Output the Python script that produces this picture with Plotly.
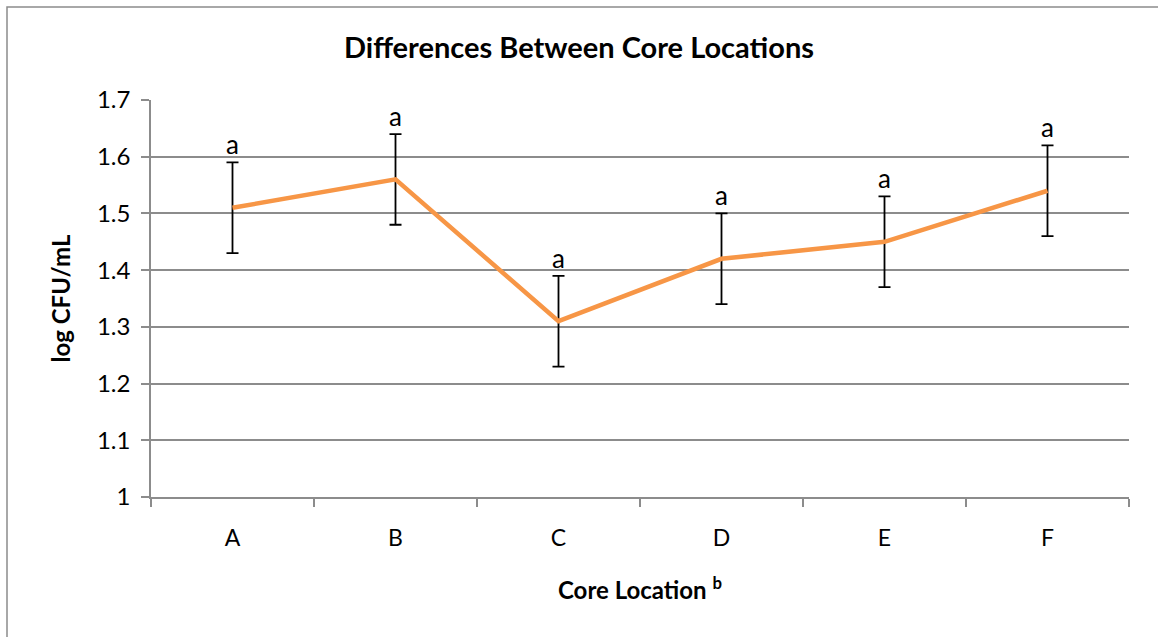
import plotly.graph_objects as go

categories = ["A", "B", "C", "D", "E", "F"]
means = [1.51, 1.56, 1.31, 1.42, 1.45, 1.54]
errors = [0.08, 0.08, 0.08, 0.08, 0.08, 0.08]
letters = ["a", "a", "a", "a", "a", "a"]
y_ticks = [1, 1.1, 1.2, 1.3, 1.4, 1.5, 1.6, 1.7]
y_tick_text = ["1", "1.1", "1.2", "1.3", "1.4", "1.5", "1.6", "1.7"]

FONT = "Lato"
GRID = "#8c8c8c"

fig = go.Figure()
fig.add_trace(go.Scatter(
    x=categories, y=means, mode="lines",
    line=dict(color="#F79646", width=4.5),
    error_y=dict(type="data", array=errors, visible=True,
                 color="black", thickness=1.8, width=6),
    showlegend=False, hoverinfo="skip",
))

for c, m, e, l in zip(categories, means, errors, letters):
    fig.add_annotation(x=c, y=m + e, text=l, showarrow=False,
                       yanchor="bottom", yshift=0,
                       font=dict(family=FONT, size=26, color="black"))

fig.update_layout(
    width=1158, height=637,
    margin=dict(l=151, r=29, t=100, b=140),
    paper_bgcolor="white", plot_bgcolor="white",
    title=dict(text="<b>Differences Between Core Locations</b>",
               x=0.5, xanchor="center", y=1 - 48 / 637, yanchor="middle",
               font=dict(family=FONT, size=29, color="black")),
    font=dict(family=FONT, color="black"),
    shapes=[dict(type="rect", xref="paper", yref="paper",
                 x0=(7 - 151) / 978, x1=1.1, y0=-0.5, y1=(497 - 7) / 397,
                 line=dict(color="#8c8c8c", width=1.5), layer="below")],
)
fig.update_xaxes(
    type="category", tickson="boundaries", ticks="outside", ticklen=8,
    tickcolor=GRID, tickwidth=1.5,
    showline=True, linecolor=GRID, linewidth=1.5, ticklabelstandoff=20,
    showgrid=False, tickfont=dict(family=FONT, size=23, color="black"),
    title=dict(text="<b>Core Location <sup>b</sup></b>", standoff=32,
               font=dict(family=FONT, size=24, color="black")),
    range=[-0.5, 5.5],
)
fig.update_yaxes(
    range=[1, 1.7], tickvals=y_ticks, ticktext=y_tick_text,
    ticks="outside", ticklen=8, tickcolor=GRID, tickwidth=1.5,
    showline=True, linecolor=GRID, linewidth=1.5, ticklabelstandoff=6,
    showgrid=True, gridcolor=GRID, gridwidth=1.5, zeroline=False,
    tickfont=dict(family=FONT, size=24, color="black"),
    title=dict(text="<b>log CFU/mL</b>", standoff=20,
               font=dict(family=FONT, size=24, color="black")),
)

fig.write_html("out.html", config={"displayModeBar": False},
               post_script="document.body.style.margin='0';")
